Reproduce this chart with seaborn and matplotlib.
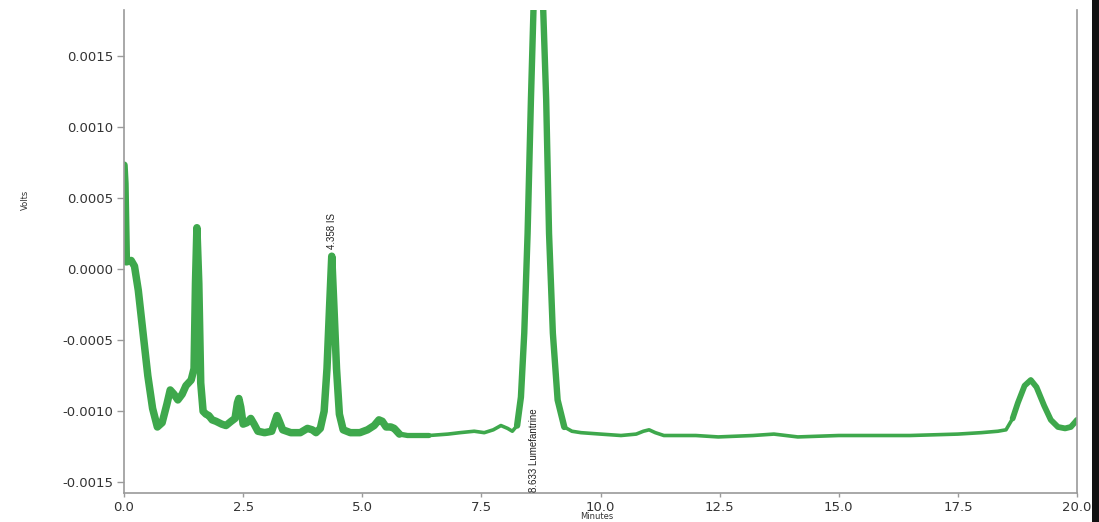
import numpy as np
import pandas as pd
import matplotlib
matplotlib.use("Agg")
import matplotlib.pyplot as plt
import seaborn as sns
from matplotlib.patches import Rectangle
from matplotlib.ticker import FuncFormatter, FixedLocator

# ---- data (minutes, volts) ----
minutes = [
    0.00, 0.02, 0.05, 0.15, 0.22, 0.30, 0.40, 0.50, 0.60, 0.70,
    0.80, 0.90, 0.97, 1.05, 1.13, 1.22, 1.30, 1.41, 1.47, 1.50,
    1.53, 1.57, 1.61, 1.66, 1.72, 1.78, 1.85, 1.93, 2.05, 2.14,
    2.25, 2.33, 2.38, 2.41, 2.45, 2.50, 2.58, 2.66, 2.73, 2.81,
    2.95, 3.10, 3.17, 3.21, 3.26, 3.33, 3.50, 3.70, 3.85, 3.95,
    4.03, 4.12, 4.20, 4.26, 4.31, 4.36, 4.41, 4.46, 4.52, 4.60,
    4.75, 4.95, 5.11, 5.25, 5.35, 5.42, 5.50, 5.60, 5.67, 5.78,
    5.95, 6.40, 6.80, 7.05, 7.35, 7.56, 7.75, 7.91, 8.05, 8.15,
    8.25, 8.33, 8.40, 8.47, 8.54, 8.60, 8.69, 8.79, 8.86, 8.92,
    9.00, 9.10, 9.24, 9.40, 9.59, 10.00, 10.43, 10.75, 10.90, 11.02,
    11.15, 11.33, 12.00, 12.47, 13.20, 13.64, 14.14, 15.00, 15.60, 16.50,
    17.50, 17.99, 18.34, 18.51, 18.65, 18.76, 18.90, 19.03, 19.15, 19.31,
    19.45, 19.60, 19.75, 19.87, 19.95, 20.00,
]
volts = [
    0.00073, 0.00060, 0.00005, 0.00006, 0.00002, -0.00015, -0.00045, -0.00075, -0.00098, -0.00111,
    -0.00108, -0.00095, -0.00085, -0.00088, -0.00092, -0.00088, -0.00082, -0.00078, -0.00070, -0.00010,
    0.00029, -0.00010, -0.00080, -0.00100, -0.00102, -0.00103, -0.00106, -0.00107, -0.00109, -0.00110,
    -0.00107, -0.00105, -0.00094, -0.00091, -0.00097, -0.00109, -0.00108, -0.00105, -0.00109, -0.00114,
    -0.00115, -0.00114, -0.00107, -0.00103, -0.00107, -0.00113, -0.00115, -0.00115, -0.00112, -0.00113,
    -0.00115, -0.00112, -0.00100, -0.00070, -0.00030, 0.00009, -0.00030, -0.00070, -0.00102, -0.00113,
    -0.00115, -0.00115, -0.00113, -0.00110, -0.00106, -0.00107, -0.00111, -0.00111, -0.00112, -0.00116,
    -0.00117, -0.00117, -0.00116, -0.00115, -0.00114, -0.00115, -0.00113, -0.00110, -0.00112, -0.00114,
    -0.00110, -0.00090, -0.00045, 0.00025, 0.00119, 0.00190, 0.00360, 0.00190, 0.00119, 0.00025,
    -0.00045, -0.00092, -0.00111, -0.00114, -0.00115, -0.00116, -0.00117, -0.00116, -0.00114, -0.00113,
    -0.00115, -0.00117, -0.00117, -0.00118, -0.00117, -0.00116, -0.00118, -0.00117, -0.00117, -0.00117,
    -0.00116, -0.00115, -0.00114, -0.00113, -0.00105, -0.00094, -0.00082, -0.00078, -0.00083, -0.00096,
    -0.00106, -0.00111, -0.00112, -0.00111, -0.00108, -0.00106,
]
peak_labels = ["4.358 IS", "8.633 Lumefantrine"]
peak_label_x = [4.358, 8.60]
peak_label_y = [0.00014, -0.00098]
x_ticks = [0.0, 2.5, 5.0, 7.5, 10.0, 12.5, 15.0, 17.5, 20.0]
y_ticks = [-0.0015, -0.0010, -0.0005, 0.0, 0.0005, 0.0010, 0.0015]

df = pd.DataFrame({"Minutes": minutes, "Volts": volts})

sns.set_style("white")
plt.rcParams["font.family"] = ["DejaVu Sans"]

W, H = 1099, 522
fig = plt.figure(figsize=(W / 100, H / 100), dpi=100)
ax = fig.add_axes([124 / W, 1 - 493 / H, (1077 - 124) / W, (493 - 10) / H])

green = "#3ea84c"
# thin baseline trace
sns.lineplot(data=df, x="Minutes", y="Volts", ax=ax, color=green, lw=2.6,
             sort=False, estimator=None, solid_joinstyle="round", solid_capstyle="round")
# thicker portions (trace drawn heavier on the original print)
for lo, hi, w in [(0.0, 5.8, 5.4), (5.6, 6.4, 3.8), (8.25, 9.3, 4.6), (18.6, 20.0, 4.2)]:
    sub = df[(df["Minutes"] >= lo) & (df["Minutes"] <= hi)]
    sns.lineplot(data=sub, x="Minutes", y="Volts", ax=ax, color=green, lw=w,
                 sort=False, estimator=None, solid_joinstyle="round", solid_capstyle="round")

ax.set_xlim(0, 20)
ax.set_ylim(-0.001574, 0.00182)

ax.xaxis.set_major_locator(FixedLocator(x_ticks))
ax.yaxis.set_major_locator(FixedLocator(y_ticks))
ax.xaxis.set_major_formatter(FuncFormatter(lambda v, p: f"{v:.1f}"))
ax.yaxis.set_major_formatter(FuncFormatter(lambda v, p: f"{v:.4f}".replace("-0.0000", "0.0000")))

spine_col = "#9a9a9a"
for s in ["left", "bottom", "right"]:
    ax.spines[s].set_visible(True)
    ax.spines[s].set_color(spine_col)
    ax.spines[s].set_linewidth(1.2)
ax.spines["top"].set_visible(False)

ax.tick_params(axis="y", direction="out", length=5, width=1, color=spine_col,
               labelsize=9.5, labelcolor="#333333", pad=3, left=True)
ax.tick_params(axis="x", direction="out", length=3, width=1, color=spine_col,
               labelsize=9.5, labelcolor="#333333", pad=3, bottom=True)

ax.set_xlabel("Minutes", fontsize=6, color="#333333")
ax.set_ylabel("Volts", fontsize=6, color="#333333")
ax.xaxis.set_label_coords(0.496, -0.040)
ax.yaxis.set_label_coords(-0.0986, 0.607)

for lab, lx, ly in zip(peak_labels, peak_label_x, peak_label_y):
    ax.text(lx, ly, lab, rotation=90, ha="center",
            va="bottom" if ly > 0 else "top", fontsize=7, color="#222222",
            family=["Liberation Sans Narrow", "Liberation Sans", "DejaVu Sans"])

# dark scan edge at the right border
fig.patches.append(Rectangle((1092 / W, 0), 7 / W, 1, transform=fig.transFigure,
                             facecolor="#111111", edgecolor="none"))

fig.savefig("out.png", dpi=100)
